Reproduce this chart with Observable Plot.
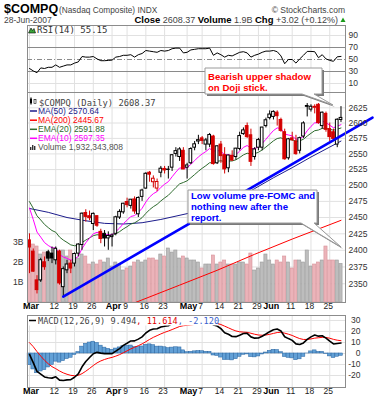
<!DOCTYPE html>
<html>
<head>
<meta charset="utf-8">
<script src="https://cdn.jsdelivr.net/npm/d3@7"></script>
<script src="https://cdn.jsdelivr.net/npm/@observablehq/plot@0.6"></script>
<style>
html,body{margin:0;padding:0;background:#fff;}
#wrap{position:relative;width:382px;height:400px;overflow:hidden;background:#fff;}
</style>
</head>
<body>
<div id="wrap"></div>
<script>
// ---------- DATA (trading days 1-Mar-2007 .. 28-Jun-2007, index 0..83) ----------
const prevClose = 2416.15; // close of 28-Feb-2007
const open = [2415,2398,2355,2355,2382,2397,2395,2385,2398,2345,2370,2380,2380,2395,2408,2457,2452,2440,2452,2428,2425,2418,
  2420,2425,2450,2458,2474,2468,2478,2455,2482,2495,2520,2505,2495,2520,2526,2525,2528,2550,2545,2555,
  2528,2535,2560,2570,2575,2565,2565,2578,2535,2565,2548,2527,2547,2545,2558,2582,2595,2580,2545,2560,2560,2595,
  2608,2610,2617,2605,2585,2543,2575,2570,2555,2578,2628,2622,2625,2630,2595,2615,2590,2585,2565,2605];
const high = [2425,2402,2362,2388,2390,2400,2405,2405,2400,2375,2385,2385,2396,2410,2457,2462,2460,2457,2453,2432,2430,2428,
  2425,2452,2462,2472,2480,2478,2482,2482,2494,2520,2522,2515,2510,2530,2530,2530,2549,2560,2560,2560,
  2535,2560,2570,2580,2578,2575,2583,2580,2563,2570,2560,2548,2555,2559,2585,2592,2600,2590,2560,2575,2593,2608,
  2620,2620,2620,2608,2590,2575,2585,2580,2577,2602,2632,2630,2630,2632,2618,2618,2600,2590,2607,2627];
const low = [2365,2367,2335,2352,2370,2383,2380,2378,2348,2331,2365,2365,2375,2390,2400,2443,2445,2430,2435,2410,2405,2400,
  2405,2422,2447,2455,2465,2463,2455,2450,2475,2494,2505,2496,2490,2512,2518,2510,2522,2545,2538,2525,
  2510,2533,2555,2565,2565,2555,2560,2532,2533,2535,2518,2520,2538,2540,2555,2580,2575,2530,2540,2555,2555,2592,
  2605,2605,2595,2585,2540,2540,2570,2548,2550,2575,2610,2618,2615,2598,2590,2585,2570,2570,2560,2601];
const close = [2404.21,2368.00,2340.68,2385.14,2374.64,2387.55,2387.73,2402.29,2350.57,2371.74,2378.70,2372.66,2394.41,2408.70,2455.92,2451.00,2448.93,2455.64,2437.43,2417.10,2417.88,2421.64,
  2422.26,2450.33,2458.68,2471.34,2469.14,2477.60,2459.31,2480.32,2491.94,2518.33,2516.95,2510.50,2505.35,2526.39,2523.67,2524.54,2547.89,2554.46,2557.21,2525.09,
  2531.53,2557.84,2565.46,2572.15,2570.95,2571.75,2580.53,2533.74,2562.22,2546.44,2525.29,2547.42,2539.38,2558.45,2578.79,2588.02,2577.05,2537.37,2557.19,2572.29,2592.59,2604.52,
  2613.92,2618.29,2611.23,2587.18,2541.38,2573.54,2572.15,2549.60,2575.40,2599.40,2626.71,2626.76,2626.62,2599.96,2616.96,2588.96,2577.08,2574.16,2605.35,2608.37];
const volumeB = [3.1,2.9,2.8,2.4,2.5,2.5,2.3,2.2,2.6,2.6,2.3,2.6,2.0,2.2,2.4,2.3,1.9,2.0,1.9,2.1,2.0,2.2,
  1.8,2.0,1.9,1.6,1.7,1.8,2.0,2.1,2.0,2.1,2.2,2.2,2.1,2.4,2.3,2.7,2.5,2.6,2.2,2.3,
  2.2,2.1,2.1,2.0,1.7,1.9,1.9,2.35,1.9,2.0,2.1,1.9,1.9,1.9,2.0,2.0,1.9,2.45,1.6,1.7,2.0,2.4,
  2.1,1.9,2.1,2.0,2.3,2.0,1.7,2.1,2.1,2.0,2.6,1.8,1.9,2.0,2.1,2.8,2.1,2.1,2.1,1.93];
const ema10 = [2464.6,2447.0,2427.7,2420.0,2411.7,2407.3,2403.8,2403.5,2393.9,2389.9,2387.9,2385.1,2386.8,2390.8,2402.6,2411.4,2418.2,2425.0,2427.3,2425.4,2424.0,2423.6,
  2423.4,2428.3,2433.8,2440.6,2445.8,2451.6,2453.0,2458.0,2464.2,2474.0,2481.8,2487.0,2490.4,2496.9,2501.8,2505.9,2513.6,2521.0,2527.6,2527.1,
  2527.9,2533.4,2539.2,2545.2,2549.9,2553.8,2558.7,2554.2,2555.6,2554.0,2548.8,2548.5,2546.8,2548.9,2554.4,2560.5,2563.5,2558.8,2558.5,2561.0,2566.7,2573.6,
  2580.9,2587.7,2592.0,2591.1,2582.1,2580.5,2579.0,2573.7,2574.0,2578.6,2587.4,2594.5,2600.4,2600.3,2603.3,2600.7,2596.4,2592.3,2594.7,2597.35];
const ema20 = [2474.6,2464.4,2452.6,2446.2,2439.4,2434.5,2430.0,2427.4,2420.1,2415.5,2412.0,2408.2,2406.9,2407.1,2411.7,2415.5,2418.7,2422.2,2423.6,2423.0,2422.5,2422.4,
  2422.4,2425.1,2428.3,2432.4,2435.9,2439.9,2441.7,2445.4,2449.8,2456.3,2462.1,2466.7,2470.4,2475.7,2480.3,2484.5,2490.5,2496.6,2502.4,2504.6,
  2507.2,2512.0,2517.1,2522.3,2527.0,2531.2,2535.9,2535.7,2538.2,2539.0,2537.7,2538.6,2538.7,2540.6,2544.2,2548.4,2551.1,2549.8,2550.5,2552.6,2556.4,2561.0,
  2566.0,2571.0,2574.8,2576.0,2572.7,2572.8,2572.7,2570.5,2571.0,2573.7,2578.8,2583.3,2587.5,2588.6,2591.3,2591.1,2589.8,2588.3,2589.9,2591.88];
const ma50Day = [0,5,10,15,20,25,30,35,42,46,51,56,60,65,70,75,80,83];
const ma50Val = [2464,2458,2450,2445,2441,2440,2442,2447,2456,2462,2471,2481,2495,2512,2528,2545,2561,2570.64];
const ma200Day = [24,28,40,50,60,70,83];
const ma200Val = [2313,2322,2348,2370,2394,2417,2445.67];
const rsi = [35,31,28,36,35,37,37,41,37,39,41,41,44,46,55,54,54,55,51,48,48,48.5,
  49,54,55,57,57,58,54,58,60,65,64,63,62,65,64,65,68,69,69,61,
  62,66,67,68,68,68,69,57,61,58,54,57,56,59,62,63,61,54,57,59,62,64,
  64,65,63,56,43,50,50,44,51,57,63.5,63.5,63,53,58,51,48.5,47,54.5,55.15];
const macd = [-0.86,-8.33,-16.26,-18.75,-21.32,-22.07,-22.39,-21.22,-24.18,-24.54,-23.99,-23.76,-21.58,-18.48,-12.07,-7.31,-3.66,-0.23,1.01,0.35,-0.11,-0.17,
  -0.16,2.09,4.49,7.33,9.30,11.40,11.46,13.05,15.08,18.61,21.05,22.20,22.44,24.05,24.82,25.21,27.09,28.78,30.00,28.05,
  26.71,27.46,28.34,29.24,29.52,29.46,29.78,25.96,24.95,22.61,18.83,17.42,15.48,15.30,16.61,18.18,18.33,15.08,13.94,14.09,15.66,17.67,
  19.80,21.58,22.17,20.46,15.23,13.52,11.92,8.74,8.20,9.60,12.77,15.10,16.75,15.73,16.11,13.98,11.21,8.68,9.08,9.494];
const signal = [9.83,6.20,1.71,-2.38,-6.17,-9.35,-11.96,-13.81,-15.88,-17.61,-18.89,-19.86,-20.20,-19.86,-18.30,-16.10,-13.61,-10.93,-8.54,-6.76,-5.43,-4.38,
  -3.54,-2.41,-1.03,0.64,2.37,4.18,5.64,7.12,8.71,10.69,12.76,14.65,16.21,17.78,19.19,20.39,21.73,23.14,24.51,25.22,
  25.52,25.91,26.40,26.97,27.48,27.88,28.26,27.80,27.23,26.31,24.81,23.33,21.76,20.47,19.70,19.40,19.19,18.37,17.48,16.80,16.57,16.79,
  17.39,18.23,19.02,19.31,18.49,17.50,16.38,14.85,13.52,12.74,12.75,13.22,13.93,14.29,14.65,14.52,13.86,12.82,12.07,11.614];
const hist = [-10.69,-14.53,-17.97,-16.37,-15.15,-12.72,-10.43,-7.41,-8.30,-6.93,-5.10,-3.90,-1.38,1.38,6.23,8.79,9.95,10.70,9.55,7.11,5.32,4.21,
  3.38,4.50,5.52,6.69,6.93,7.22,5.82,5.93,6.37,7.92,8.29,7.55,6.23,6.27,5.63,4.82,5.36,5.64,5.49,2.83,
  1.19,1.55,1.94,2.27,2.04,1.58,1.52,-1.84,-2.28,-3.70,-5.98,-5.91,-6.28,-5.17,-3.09,-1.22,-0.86,-3.29,-3.54,-2.71,-0.91,0.88,
  2.41,3.35,3.15,1.15,-3.26,-3.98,-4.46,-6.11,-5.32,-3.14,0.02,1.88,2.82,1.44,1.46,-0.54,-2.65,-4.14,-2.99,-2.120];
const trendDay = [9, 91.4];
const trendVal = [2331, 2609];
const tickDay = [0,7,12,17,22,26,31,36,42,46,51,56,61,64,70,75,80];
const tickLabel = ["Mar","12","19","26","Apr","9","16","23","May","7","14","21","29","Jun","11","18","25"];
const tickIsMonth = [1,0,0,0,1,0,0,0,1,0,0,0,0,1,0,0,0];
const rsiTicks = [90,70,50,30,10];
const priceTicks = [2350,2375,2400,2425,2450,2475,2500,2525,2550,2575,2600,2625];
const volTicks = [1e9,2e9,3e9];
const macdTicks = [30,20,10,0,-10,-20];

// ---------- BUILD ----------
const W = 382, H = 400;
const FONT = "Liberation Sans, Arial, sans-serif";
const GRID = "#e1e1e1";
const FRAME = "#8c8c8c";
const UP = "#000000", DN = "#d40000";
const bars = close.map((c, i) => ({i, o: open[i], h: high[i], l: low[i], c, v: volumeB[i] * 1e9,
  up: c >= (i ? close[i - 1] : prevClose)}));
const ticks = tickDay.map((i, k) => ({i, label: tickLabel[k], month: !!tickIsMonth[k]}));
const series = (days, vals) => days.map((i, k) => ({i, v: vals[k]}));
const daily = vals => vals.map((v, i) => ({i, v}));

function layer(mt, mb, y, marks) {
  return Plot.plot({
    width: W, height: H, marginLeft: 27, marginRight: 37, marginTop: mt, marginBottom: mb,
    x: {domain: [-0.53, 84.2], axis: null}, y: {...y, axis: null}, color: {type: "identity"},
    style: {background: "transparent", overflow: "visible", position: "absolute", left: "0px", top: "0px", fontFamily: FONT},
    marks
  });
}
function xLabels(dy) {
  return [
    Plot.text(ticks.filter(d => d.month), {x: "i", text: "label", frameAnchor: "bottom", dy, dx: 1.5, fontWeight: "bold", fontSize: 9, fill: "#000"}),
    Plot.text(ticks.filter(d => !d.month), {x: "i", text: "label", frameAnchor: "bottom", dy, dx: -1.5, fontSize: 8.5, fill: "#222"})
  ];
}
const wrap = document.getElementById("wrap");
const PRICE_Y = {type: "log", domain: [2322.5, 2650.4]};

// RSI panel
wrap.append(layer(25, 308, {domain: [-5, 106.7]}, [
  Plot.ruleX(tickDay, {stroke: GRID}),
  Plot.ruleY([90, 10], {stroke: GRID}),
  Plot.ruleY([70, 30], {stroke: "#8a8a8a"}),
  Plot.ruleY([50], {stroke: "#8a8a8a", strokeDasharray: "5,2,1,2"}),
  Plot.line(daily(rsi), {x: "i", y: "v", stroke: "#000", strokeWidth: 1}),
  Plot.text(rsiTicks, {y: d => d, text: d => String(d), frameAnchor: "right", dx: 3, textAnchor: "start", fontSize: 8.5, fill: "#333"}),
  Plot.frame({stroke: FRAME})
]));

// price grid
wrap.append(layer(92, 98, PRICE_Y, [
  Plot.ruleX(tickDay, {stroke: GRID}),
  Plot.ruleY(priceTicks, {stroke: GRID})
]));

// volume
wrap.append(layer(92, 98, {domain: [0, 10.5e9]}, [
  Plot.rectY(bars, {x1: d => d.i - 0.42, x2: d => d.i + 0.42, y: "v",
    fill: d => d.up ? "#bdbdbd" : "#ebb3b9", stroke: d => d.up ? "#9c9c9c" : "#d8939a", strokeWidth: 0.6}),
  Plot.text(volTicks, {y: d => d, text: d => (d / 1e9) + "B", frameAnchor: "left", dx: -4, textAnchor: "end", fontSize: 8.5, fill: "#333"})
]));

// price
wrap.append(layer(92, 98, PRICE_Y, [
  Plot.line(series(ma200Day, ma200Val), {x: "i", y: "v", stroke: "#ff0000", strokeWidth: 1, clip: true}),
  Plot.line(series(ma50Day, ma50Val), {x: "i", y: "v", stroke: "#1c1c8c", strokeWidth: 1}),
  Plot.line(daily(ema20), {x: "i", y: "v", stroke: "#2e6b2e", strokeWidth: 1}),
  Plot.line(daily(ema10), {x: "i", y: "v", stroke: "#ff00ff", strokeWidth: 1}),
  Plot.ruleX(bars, {x: "i", y1: "l", y2: "h", stroke: d => d.up ? UP : DN, strokeWidth: 1}),
  Plot.rect(bars, {x1: d => d.i - 0.36, x2: d => d.i + 0.36, y1: "o", y2: "c",
    fill: d => d.c >= d.o ? "#ffffff" : (d.up ? UP : DN), stroke: d => d.up ? UP : DN, strokeWidth: 1}),
  Plot.line(series(trendDay, trendVal), {x: "i", y: "v", stroke: "#0000ff", strokeWidth: 2.6}),
  Plot.text(priceTicks, {y: d => d, text: d => String(d), frameAnchor: "right", dx: 3, textAnchor: "start", fontSize: 8.5, fill: "#333"}),
  Plot.frame({stroke: FRAME}),
  ...xLabels(6)
]));

// MACD
wrap.append(layer(315, 13, {domain: [-30.9, 34.5]}, [
  Plot.ruleX(tickDay, {stroke: GRID}),
  Plot.ruleY(macdTicks, {stroke: GRID}),
  Plot.rectY(daily(hist), {x1: d => d.i - 0.5, x2: d => d.i + 0.5, y: "v", fill: "#62a0d6", stroke: "#2a65a0", strokeWidth: 0.5}),
  Plot.line(daily(signal), {x: "i", y: "v", stroke: "#ff0000", strokeWidth: 1}),
  Plot.line(daily(macd), {x: "i", y: "v", stroke: "#000", strokeWidth: 1.6}),
  Plot.text(macdTicks, {y: d => d, text: d => String(d), frameAnchor: "right", dx: 15, textAnchor: "end", fontSize: 8.5, fill: "#333"}),
  Plot.frame({stroke: FRAME}),
  ...xLabels(6)
]));

// ---------- OVERLAY: header, legends, callouts ----------
const ov = d3.select(wrap).append("svg").attr("width", W).attr("height", H)
  .style("position", "absolute").style("left", "0px").style("top", "0px");
function txt(x, y, parts, o = {}) {
  const t = ov.append("text").attr("x", x).attr("y", y).attr("text-anchor", o.anchor || "start")
    .attr("font-family", o.font || FONT).attr("font-size", o.size || 8.5).attr("fill", o.fill || "#333");
  for (const p of parts) {
    const s = t.append("tspan").text(p.t);
    if (p.fill) s.attr("fill", p.fill);
    if (p.bold) s.attr("font-weight", "bold");
    if (p.size) s.attr("font-size", p.size);
  }
  return t;
}
const MONO = "DejaVu Sans Mono, monospace";

// header
txt(4, 13, [{t: "$COMPQ", bold: true, fill: "#000", size: 12.5}]);
txt(59, 13, [{t: "(Nasdaq Composite) INDX"}], {size: 8.3, fill: "#444"});
txt(345, 12.5, [{t: "\u00A9 StockCharts.com"}], {anchor: "end", size: 8.5, fill: "#444"});
txt(4, 22.5, [{t: "28-Jun-2007"}], {size: 8.5, fill: "#444"});
txt(338, 22.5, [
  {t: "Close", bold: true, fill: "#000", size: 9.5}, {t: " 2608.37  "},
  {t: "Volume", bold: true, fill: "#000", size: 9.5}, {t: " 1.9B  "},
  {t: "Chg", bold: true, fill: "#000", size: 9.5}, {t: " +3.02 (+0.12%)"}
], {anchor: "end", size: 9, fill: "#444"});
ov.append("path").attr("d", "M340.5,22 L343,17.5 L345.5,22 Z").attr("fill", "#1a9a1a");

// RSI legend
ov.append("path").attr("d", "M28.5,33 L31,28 L32.5,30.5 L34,28.5 L35.5,33 Z").attr("fill", "#3aa63a").attr("stroke", "#000").attr("stroke-width", 0.6);
txt(37, 33, [{t: "RSI(14) 55.15"}], {font: MONO, size: 9, fill: "#333"});

// main legend
const lg = ov.append("g");
lg.append("rect").attr("x", 30).attr("y", 98.5).attr("width", 2).attr("height", 5).attr("fill", "#000");
lg.append("line").attr("x1", 31).attr("x2", 31).attr("y1", 97).attr("y2", 105).attr("stroke", "#000").attr("stroke-width", 0.6);
lg.append("rect").attr("x", 34).attr("y", 99.5).attr("width", 2).attr("height", 4).attr("fill", "#fff").attr("stroke", "#000").attr("stroke-width", 0.6);
txt(39, 105.5, [{t: "$COMPQ (Daily) 2608.37"}], {font: MONO, size: 8.8, fill: "#444"});
const maLeg = [["MA(50) 2570.64", "#1c1c8c", 114], ["MA(200) 2445.67", "#ff0000", 123.2],
  ["EMA(20) 2591.88", "#2e6b2e", 132.3], ["EMA(10) 2597.35", "#ff00ff", 141.3]];
for (const [s, c, y] of maLeg) {
  lg.append("line").attr("x1", 30).attr("x2", 37).attr("y1", y - 3).attr("y2", y - 3).attr("stroke", c).attr("stroke-width", 1.5);
  txt(38, y, [{t: s}], {size: 8.5, fill: c});
}
[[30, 147, 3], [32, 145, 5], [34, 146, 4]].forEach(([x, y, h]) =>
  lg.append("rect").attr("x", x).attr("y", y).attr("width", 1.4).attr("height", h).attr("fill", "#333"));
txt(38, 150, [{t: "Volume 1,932,343,808"}], {size: 8.5, fill: "#555"});

// MACD legend (white background)
ov.append("rect").attr("x", 28).attr("y", 316).attr("width", 190).attr("height", 9.5).attr("fill", "#fff");
ov.append("line").attr("x1", 29).attr("x2", 36).attr("y1", 320.5).attr("y2", 320.5).attr("stroke", "#000").attr("stroke-width", 1.5);
txt(38, 324, [{t: "MACD(12,26,9) 9.494"}, {t: ", 11.614", fill: "#e00000"}, {t: ", -2.120", fill: "#3a5fcd"}], {font: MONO, size: 8.6, fill: "#444"});

// callouts
function callout(x, y, w, h, b1, b2, tx, ty, lines, color, lx, ly0, dy) {
  const yb = y + h;
  const d = `M${x},${y} H${x + w} V${yb} H${b2} L${tx},${ty} L${b1},${yb} H${x} Z`;
  ov.append("path").attr("d", d).attr("transform", "translate(2,2)").attr("fill", "#7a7a7a");
  ov.append("path").attr("d", d).attr("fill", "#fff").attr("stroke", "#9a9a9a").attr("stroke-width", 1);
  lines.forEach((s, k) => txt(lx, ly0 + k * dy, [{t: s}], {size: 9.6, fill: color}).attr("font-weight", "bold"));
}
callout(205, 68, 117, 26, 302, 314, 333, 105, ["Bearish upper shadow", "on Doji stick."], "#ff0000", 208, 79.5, 11);
callout(188, 190, 129, 33, 301, 314, 341, 247, ["Low volume pre-FOMC and", "nothing new after the", "report."], "#0000ff", 191, 199, 11);
</script>
</body>
</html>
